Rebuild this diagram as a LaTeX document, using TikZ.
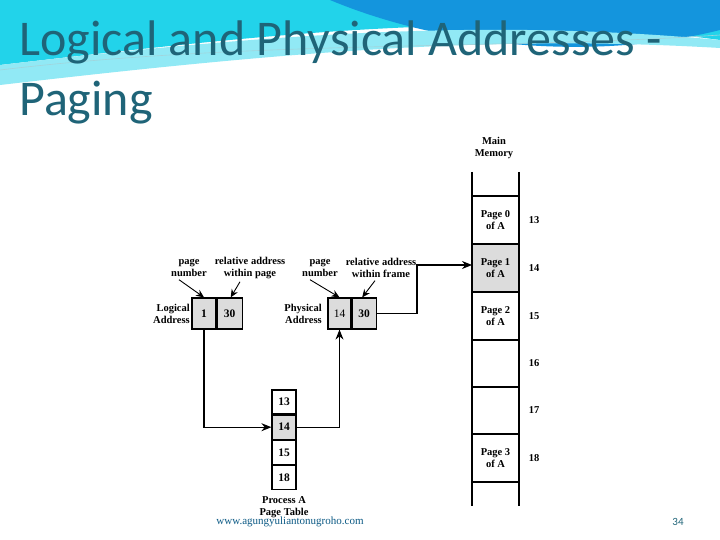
\documentclass[tikz,border=0pt]{standalone}
\usepackage{fontspec}
\setmainfont{Liberation Serif}
\newfontfamily\titlefont{Carlito}
\usetikzlibrary{arrows.meta}
\definecolor{titlec}{HTML}{1F6478}
\definecolor{cyanA}{HTML}{22D3EA}
\definecolor{blueA}{HTML}{1495DD}
\definecolor{cellg}{HTML}{DCDCDC}
\begin{document}
\begin{tikzpicture}[x=1pt,y=-1pt,
  lbl/.style={font=\fontsize{10.5}{11.5}\selectfont\bfseries,align=center,inner sep=0},
  cell/.style={draw,line width=1.2pt,minimum width=24pt,minimum height=24pt,inner sep=0,font=\fontsize{11.5}{12}\selectfont\bfseries},
  conn/.style={line width=1.2pt},
  tip/.style={-{Stealth[length=10pt,width=8pt]}},
  small/.style={-{Stealth[length=8pt,width=7pt]},line width=0.9pt}]
\useasboundingbox (0,0) rectangle (720,540);
\fill[white] (0,0) rectangle (720,540);
% background swoosh
\fill[cyanA] (0,0) -- (720,0) -- (720,40) .. controls (500,10) and (300,30) .. (0,65) -- cycle;
\fill[blueA] (330,0) -- (720,0) -- (720,30) .. controls (600,60) and (450,50) .. (330,0) -- cycle;
\fill[cyanA!50] (0,65) .. controls (300,30) and (500,20) .. (720,40) -- (720,48) .. controls (500,35) and (300,50) .. (0,85) -- cycle;
\draw[cyanA!70!black!40,line width=0.6pt] (0,70) .. controls (250,40) and (500,50) .. (720,35);
% title
\node[anchor=north west,inner sep=0,align=left,text=titlec,font=\titlefont\fontsize{50}{60}\selectfont] (title) at (19,21) {Logical and Physical Addresses -\\Paging};
% main memory
\node[lbl] (mm) at (494,148) {Main\\Memory};
\draw[conn] (472,172) -- (472,506) (519,172) -- (519,506);
\foreach \y in {196,244,292,340,387,434,482} \draw[conn] (472,\y) -- (519,\y);
\fill[cellg] (472.6,244.6) rectangle (518.4,291.4);
\node[lbl] (p0) at (495.5,220) {Page 0\\of A};
\node[lbl] (p1) at (495.5,268) {Page 1\\of A};
\node[lbl] (p2) at (495.5,316) {Page 2\\of A};
\node[lbl] (p3) at (495.5,458) {Page 3\\of A};
\node[lbl] (n13) at (534,220) {13};
\node[lbl] (n14) at (534,268) {14};
\node[lbl] (n15) at (534,316) {15};
\node[lbl] (n16) at (534,363) {16};
\node[lbl] (n17) at (534,410) {17};
\node[lbl] (n18) at (534,458) {18};
\coordinate (mem14) at (472,265);
% logical address
\node[cell,fill=cellg,minimum width=24pt,minimum height=31pt] (l1) at (204,313.5) {1};
\node[cell,fill=cellg,minimum width=25pt,minimum height=31pt,anchor=west] (l30) at (l1.east) {30};
\node[lbl,align=right,anchor=east] (la) at (190,314) {Logical\\Address};
\node[lbl] (lpn) at (189,268) {page\\number};
\node[lbl] (lra) at (250,268) {relative address\\within page};
\draw[small] (lpn.south) ++(-10,3) -- (l1.north);
\draw[small] (lra.south) ++(-10,3) -- ([xshift=1pt]l30.north);
% physical address
\node[cell,fill=cellg,minimum width=23pt,minimum height=31pt] (ph14) at (339.5,313.5) {\mdseries 14};
\node[cell,fill=cellg,minimum width=24pt,minimum height=31pt,anchor=west] (ph30) at (ph14.east) {30};
\node[lbl,align=right,anchor=east] (pa) at (322,314) {Physical\\Address};
\node[lbl] (ppn) at (320,268) {page\\number};
\node[lbl] (pra) at (381,268) {relative address\\within frame};
\draw[small] (ppn.south) ++(-10,3) -- (ph14.north);
\draw[small] (pra.south) ++(-6,3) -- ([xshift=-2pt]ph30.north);
% page table
\node[cell] (t13) at (284,402) {13};
\node[cell,fill=cellg,anchor=north] (t14) at (t13.south) {14};
\node[cell,anchor=north] (t15) at (t14.south) {15};
\node[cell,anchor=north] (t18) at (t15.south) {18};
\node[lbl] (pt) at (284,507) {Process A\\Page Table};
% connectors
\draw[conn,tip] (l1.south) |- (t14.west);
\draw[conn,tip] (t14.east) -| (ph14.south);
\draw[conn,tip] (ph30.east) -- (417,313.5) |- (mem14);
% footer
\node[inner sep=0,font=\fontsize{11}{12}\selectfont,text=blueA!60!black] (web) at (290,522) {www.agungyuliantonugroho.com};
\node[inner sep=0,font=\titlefont\fontsize{11}{12}\selectfont,text=titlec] (pg) at (678,522) {34};
\end{tikzpicture}
\end{document}
